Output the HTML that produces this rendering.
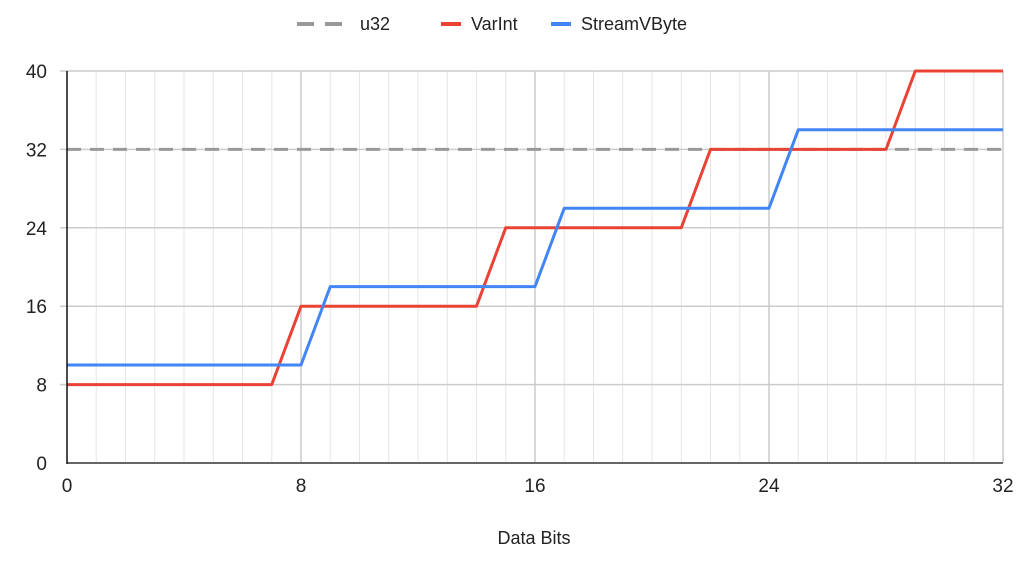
<!DOCTYPE html>
<html><head><meta charset="utf-8"><style>
body{margin:0;background:#fff;}
svg text{font-family:"Liberation Sans",Arial,sans-serif;fill:#222;}
</style></head><body>
<svg width="1028" height="570" id="svg">
<g id="grid"></g>
<g id="series"></g>
<g id="axes"></g>
<g>
  <line x1="297" y1="24" x2="343" y2="24" stroke="#999" stroke-width="4" stroke-dasharray="17,11"/>
  <text x="360" y="30" font-size="18">u32</text>
  <line x1="441" y1="24" x2="461" y2="24" stroke="#ea4335" stroke-width="4"/>
  <text x="471" y="30" font-size="18">VarInt</text>
  <line x1="551" y1="24" x2="571" y2="24" stroke="#4285f4" stroke-width="4"/>
  <text x="581" y="30" font-size="18">StreamVByte</text>
</g>
<text x="534" y="544" font-size="18" text-anchor="middle">Data Bits</text>
</svg>
<script>
const xs=[0,1,2,3,4,5,6,7,8,9,10,11,12,13,14,15,16,17,18,19,20,21,22,23,24,25,26,27,28,29,30,31,32];
const u32=[32,32,32,32,32,32,32,32,32,32,32,32,32,32,32,32,32,32,32,32,32,32,32,32,32,32,32,32,32,32,32,32,32];
const varint=[8,8,8,8,8,8,8,8,16,16,16,16,16,16,16,24,24,24,24,24,24,24,32,32,32,32,32,32,32,40,40,40,40];
const svbyte=[10,10,10,10,10,10,10,10,10,18,18,18,18,18,18,18,18,26,26,26,26,26,26,26,26,34,34,34,34,34,34,34,34];
const xTicks=[0,8,16,24,32];
const yTicks=[0,8,16,24,32,40];
const X=v=>67+v*(1003-67)/32, Y=v=>463-v*(463-71)/40;
const NS="http://www.w3.org/2000/svg";
function mk(p,t,a){const e=document.createElementNS(NS,t);for(const k in a)e.setAttribute(k,a[k]);p.appendChild(e);return e;}
const grid=document.getElementById('grid'),ser=document.getElementById('series'),ax=document.getElementById('axes');
for(let i=1;i<=32;i++){const major=i%8===0;
 const l=mk(grid,'line',{x1:X(i),x2:X(i),y1:71,y2:463,stroke:major?'#ccc':'#e6e6e6','stroke-width':major?1.5:1});
 
 }
yTicks.forEach(v=>{if(v>0){const l=mk(grid,'line',{x1:60,x2:1003,y1:Y(v),y2:Y(v),stroke:'#ccc','stroke-width':1.5});
 
 }
 const t=mk(ax,'text',{x:47,y:Y(v)+7,'font-size':19,'text-anchor':'end'});t.textContent=v;
 
 });
xTicks.forEach(v=>{const t=mk(ax,'text',{x:X(v),y:492,'font-size':19,'text-anchor':'middle'});t.textContent=v;
 
 });
const pts=a=>a.map((v,i)=>X(xs[i])+','+Y(v)).join(' ');
const s1=mk(ser,'polyline',{points:pts(u32),fill:'none',stroke:'#999','stroke-width':3,'stroke-dasharray':'14,9'});


const s2=mk(ser,'polyline',{points:pts(varint),fill:'none',stroke:'#ea4335','stroke-width':3,'stroke-linejoin':'round'});


const s3=mk(ser,'polyline',{points:pts(svbyte),fill:'none',stroke:'#4285f4','stroke-width':3,'stroke-linejoin':'round'});


const xa=mk(ax,'line',{x1:67,x2:1003,y1:463,y2:463,stroke:'#666','stroke-width':2});


const ya=mk(ax,'line',{x1:67,x2:67,y1:71,y2:464,stroke:'#111','stroke-width':1.5});


</script>
</body></html>
